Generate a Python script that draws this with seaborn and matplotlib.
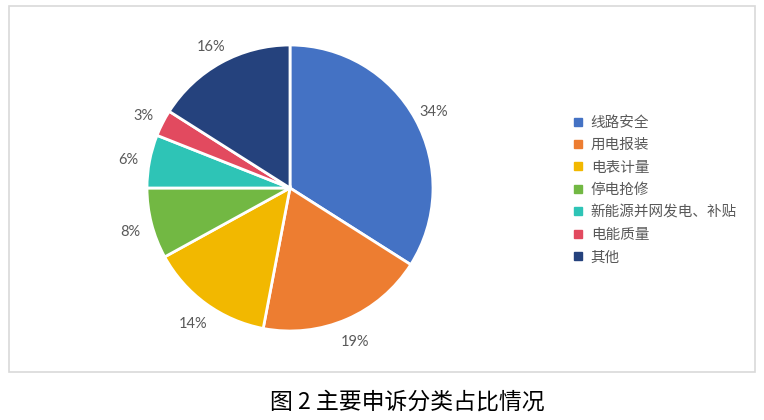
import matplotlib
matplotlib.use("Agg")
import matplotlib.pyplot as plt
from matplotlib.lines import Line2D
from matplotlib.patches import Rectangle
from matplotlib.transforms import ScaledTranslation
import seaborn as sns

categories = ["线路安全", "用电报装", "电表计量", "停电抢修", "新能源并网发电、补贴", "电能质量", "其他"]
values = [34, 19, 14, 8, 6, 3, 16]
colors = ["#4472C4", "#ED7D31", "#F2B800", "#72B843", "#2EC4B6", "#E24A5F", "#25427D"]
caption = "图 2 主要申诉分类占比情况"

sns.set_theme(style="white")
plt.rcParams["font.family"] = ["Noto Sans CJK SC", "DejaVu Sans"]

W, H = 764, 420
fig = plt.figure(figsize=(W / 100, H / 100), dpi=100)
fig.patch.set_facecolor("white")

# outer border box
fig.patches.append(Rectangle((9 / W, 1 - 372 / H), (755 - 9) / W, (372 - 6) / H,
                             transform=fig.transFigure, fill=False,
                             edgecolor="#D9D9D9", linewidth=1.2))

cx, cy, r = 290, 188, 143
ax = fig.add_axes([(cx - r) / W, 1 - (cy + r) / H, 2 * r / W, 2 * r / H])
palette = sns.color_palette(colors)
wedges, texts, autotexts = ax.pie(
    values, colors=palette, startangle=90, counterclock=False,
    autopct=lambda p: f"{p:.0f}%", pctdistance=1.15,
    wedgeprops=dict(edgecolor="white", linewidth=2),
    textprops=dict(color="#595959", fontsize=10.5, family=["Lato", "DejaVu Sans"]))
shift = ScaledTranslation(0, -3 / 100, fig.dpi_scale_trans)
for t in autotexts:
    t.set_transform(ax.transData + shift)
ax.set_xlim(-1, 1)
ax.set_ylim(-1, 1)
ax.set_aspect("equal")
ax.axis("off")

handles = [Line2D([0], [0], marker="s", linestyle="none", markersize=6,
                  markerfacecolor=c, markeredgecolor=c) for c in palette]
fig.legend(handles, categories, loc="center left",
           bbox_to_anchor=(573 / W, 1 - 190 / H), frameon=False,
           fontsize=10.5, labelcolor="#595959", handlelength=0.67,
           handletextpad=0.55, labelspacing=0.58, borderpad=0, borderaxespad=0)

fig.text(407 / W, 1 - 402 / H, caption, ha="center", va="center",
         fontsize=16.5, color="black", fontweight="medium")

fig.savefig("out.png", dpi=100, facecolor="white")
